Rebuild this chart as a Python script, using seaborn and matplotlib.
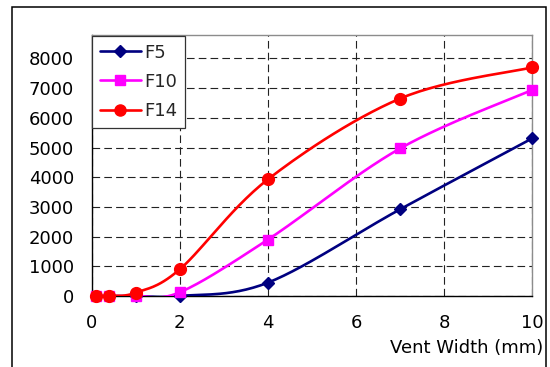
import numpy as np
import pandas as pd
import seaborn as sns
import matplotlib
matplotlib.use("Agg")
import matplotlib.pyplot as plt
from matplotlib.lines import Line2D
from matplotlib.patches import Rectangle

# Measured data
vent_width = [0.1, 0.4, 1.0, 2.0, 4.0, 7.0, 10.0]
f5 = [0, 0, 0, 0, 450, 2920, 5310]
f10 = [0, 0, 0, 125, 1900, 4970, 6940]
f14 = [0, 0, 110, 900, 3930, 6650, 7700]
series_names = ["F5", "F10", "F14"]
x_ticks = [0, 2, 4, 6, 8, 10]
y_ticks = [0, 1000, 2000, 3000, 4000, 5000, 6000, 7000, 8000]
x_label = "Vent Width (mm)"

colors = {"F5": "#000080", "F10": "#FF00FF", "F14": "#FF0000"}
markers = {"F5": "D", "F10": "s", "F14": "o"}
msizes = {"F5": 6.5, "F10": 7.5, "F14": 8.5}

sns.set_theme(style="white")
plt.rcParams["font.family"] = ["DejaVu Sans"]
plt.rcParams["lines.scale_dashes"] = False
FS = 13


def bezier_smooth(xs, ys, n=30):
    """Spreadsheet-style smoothed line: cubic Bezier segments whose control
    points follow the neighbouring points (tension 1/6)."""
    pts = np.column_stack([xs, ys]).astype(float)
    out = [pts[0]]
    m = len(pts)
    t = np.linspace(0, 1, n)[1:, None]
    for i in range(m - 1):
        p0, p3 = pts[i], pts[i + 1]
        prev = pts[i - 1] if i > 0 else pts[i]
        nxt = pts[i + 2] if i + 2 < m else pts[i + 1]
        c1 = p0 + (p3 - prev) / 6.0
        c2 = p3 - (nxt - p0) / 6.0
        seg = ((1 - t) ** 3) * p0 + 3 * ((1 - t) ** 2) * t * c1 \
            + 3 * (1 - t) * t ** 2 * c2 + t ** 3 * p3
        out.extend(seg)
    out = np.array(out)
    return out[:, 0], out[:, 1]


points = pd.DataFrame({
    "x": vent_width * 3,
    "y": f5 + f10 + f14,
    "series": [s for s in series_names for _ in vent_width],
})

curve_rows = []
for name in series_names:
    sub = points[points.series == name]
    cx, cy = bezier_smooth(sub.x.values, sub.y.values)
    curve_rows.append(pd.DataFrame({"x": cx, "y": cy, "series": name}))
curves = pd.concat(curve_rows, ignore_index=True)

fig = plt.figure(figsize=(5.5, 3.67), dpi=100)
W, H = 550, 367
ax = fig.add_axes([91.7 / W, 1 - 296 / H, (532.3 - 91.7) / W, (296 - 35) / H])

for name in series_names:
    sns.lineplot(data=curves[curves.series == name], x="x", y="y",
                 sort=False, estimator=None, color=colors[name], lw=1.9,
                 ax=ax, zorder=3, legend=False)
    sub = points[points.series == name]
    ax.plot(sub.x, sub.y, linestyle="none", marker=markers[name],
            markersize=msizes[name], color=colors[name], zorder=4,
            clip_on=False)

ax.set_xlim(0, 10)
ax.set_ylim(0, 8790)
ax.set_xticks(x_ticks)
ax.set_yticks(y_ticks)
ax.set_xticklabels([str(v) for v in x_ticks])
ax.set_yticklabels([str(v) for v in y_ticks])
ax.set_xlabel("")
ax.set_ylabel("")
ax.tick_params(axis="both", direction="out", length=4.3, width=0.8,
               color="black", labelsize=FS, labelcolor="black")
ax.tick_params(axis="x", pad=8.5)
ax.tick_params(axis="y", pad=8.5)

ax.grid(True, color="#222222", linewidth=0.8, linestyle=(0, (5.5, 3.0)))
ax.set_axisbelow(True)
for side in ["left", "bottom"]:
    ax.spines[side].set_color("black")
    ax.spines[side].set_linewidth(1.0)
for side in ["top", "right"]:
    ax.spines[side].set_color("#8c8c8c")
    ax.spines[side].set_linewidth(1.0)
    ax.spines[side].set_visible(True)

handles = [Line2D([], [], color=colors[n], lw=1.9, marker=markers[n],
                  markersize=msizes[n] - 0.5) for n in series_names]
leg = ax.legend(handles, series_names, loc="upper left",
                bbox_to_anchor=(92 / W, 1 - 36 / H),
                bbox_transform=fig.transFigure, borderaxespad=0,
                fontsize=FS, handlelength=2.3, handletextpad=0.2,
                labelspacing=0.62, borderpad=0.42, frameon=True,
                fancybox=False, framealpha=1, edgecolor="#333333")
leg.get_frame().set_linewidth(0.9)
leg.set_zorder(10)

fig.text(543 / W, 1 - 348 / H, x_label, ha="right", va="center",
         fontsize=FS, color="black")

# Outer chart frame (bottom edge runs off the canvas)
fig.patches.append(Rectangle((11.7 / W, -0.05), (546 - 11.7) / W,
                             1 - 7.3 / H + 0.05, transform=fig.transFigure,
                             fill=False, edgecolor="black", linewidth=1.1))

fig.savefig("out.png", dpi=100)
